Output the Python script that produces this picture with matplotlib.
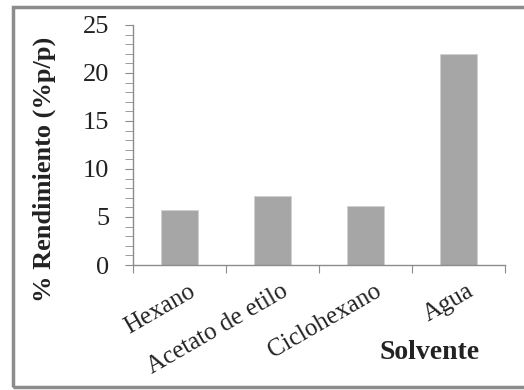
import matplotlib
matplotlib.use("Agg")
import matplotlib.pyplot as plt
from matplotlib.patches import Rectangle
from matplotlib.ticker import MultipleLocator

categories = ["Hexano", "Acetato de etilo", "Ciclohexano", "Agua"]
values = [5.7, 7.2, 6.1, 22.0]
yticks = [0, 5, 10, 15, 20, 25]

plt.rcParams['font.family'] = ['Liberation Serif', 'DejaVu Serif']

fig = plt.figure(figsize=(5.24, 3.9), dpi=100)
ax = fig.add_axes([0.254, 0.3205, 0.710, 0.6155])

x = list(range(len(categories)))
ax.bar(x, values, width=0.4, color="#a6a6a6", edgecolor="#d0d0d0", linewidth=0.6)
ax.set_xlim(-0.5, len(categories) - 0.5)
ax.set_ylim(0, 25)
ax.set_yticks(yticks)
ax.yaxis.set_minor_locator(MultipleLocator(1))
ax.set_xticks([i - 0.5 for i in range(len(categories) + 1)], minor=False)
ax.set_xticklabels([""] * (len(categories) + 1))
for i, c in enumerate(categories):
    ax.text(i + 0.09, -1.6, c, rotation=30, ha="right", va="top",
            rotation_mode="anchor", fontsize=18, color="#222222")

for s in ["top", "right"]:
    ax.spines[s].set_visible(False)
for s in ["left", "bottom"]:
    ax.spines[s].set_color("#8c8c8c")
    ax.spines[s].set_linewidth(1.0)

ax.tick_params(axis="y", which="major", length=6, color="#8c8c8c", labelsize=19, pad=11, labelcolor="#222222")
ax.tick_params(axis="y", which="minor", length=6, color="#8c8c8c")
ax.tick_params(axis="x", which="major", length=6, color="#8c8c8c")

fig.text(0.084, 0.565, "% Rendimiento (%p/p)", rotation=90, ha="center", va="center",
         fontsize=19, fontweight="bold", color="#222222")
fig.text(0.819, 0.097, "Solvente", ha="center", va="center", fontsize=20,
         fontweight="bold", color="#222222")

fig.patches.append(Rectangle((13 / 524, 3 / 390), 530 / 524, 380 / 390,
                             transform=fig.transFigure, fill=False,
                             edgecolor="#8c8c8c", linewidth=2.5))

fig.savefig("out.png", dpi=100)
